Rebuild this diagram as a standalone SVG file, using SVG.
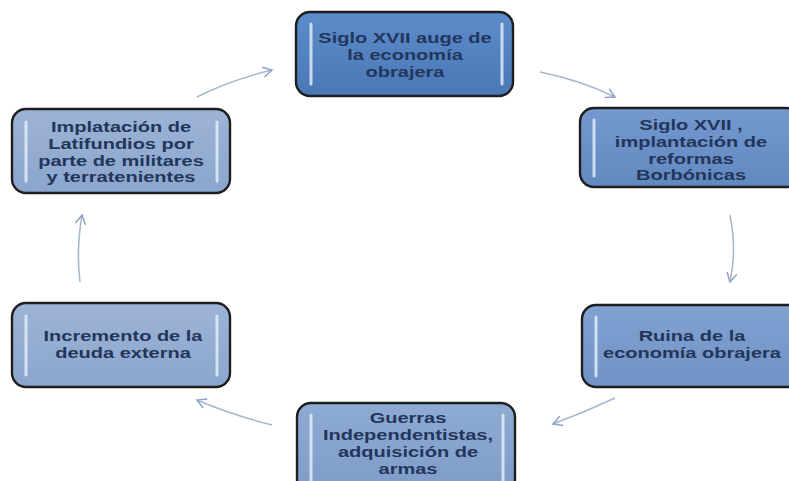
<svg xmlns="http://www.w3.org/2000/svg" width="789" height="481" viewBox="0 0 789 481">
<defs>
<linearGradient id="g1" x1="0" y1="0" x2="0" y2="1"><stop offset="0" stop-color="#5d8ccb"/><stop offset="1" stop-color="#4a78b5"/></linearGradient>
<linearGradient id="g2" x1="0" y1="0" x2="0" y2="1"><stop offset="0" stop-color="#7399cf"/><stop offset="1" stop-color="#6288c0"/></linearGradient>
<linearGradient id="g3" x1="0" y1="0" x2="0" y2="1"><stop offset="0" stop-color="#80a2d1"/><stop offset="1" stop-color="#7192c4"/></linearGradient>
<linearGradient id="g4" x1="0" y1="0" x2="0" y2="1"><stop offset="0" stop-color="#8eabd4"/><stop offset="1" stop-color="#7e9cc8"/></linearGradient>
<linearGradient id="g5" x1="0" y1="0" x2="0" y2="1"><stop offset="0" stop-color="#9cb4d6"/><stop offset="1" stop-color="#8ba5cc"/></linearGradient>
<marker id="ah" viewBox="0 0 12 12" refX="10" refY="6" markerWidth="12" markerHeight="12" markerUnits="userSpaceOnUse" orient="auto"><path d="M1,1 L10,6 L1,11" fill="none" stroke="#8fa3c4" stroke-width="1.5"/></marker>
<style>
.box{stroke:#1e1e1e;stroke-width:2.4}
.hl{stroke:#e8f1fb;stroke-width:3;stroke-linecap:round;opacity:0.8}
.t{font-family:"Liberation Sans",Arial,sans-serif;font-size:14.5px;font-weight:bold;fill:#23365a;text-anchor:middle}
.c{fill:none;stroke:#a6b6d0;stroke-width:1.5;marker-end:url(#ah)}
</style>
</defs>
<g id="connectors">
<path class="c" d="M197,97 Q230,80 272,70"/>
<path class="c" d="M540,72 Q580,80 615,97"/>
<path class="c" d="M730,215 Q737,250 730,282"/>
<path class="c" d="M615,398 Q585,412 553,424"/>
<path class="c" d="M272,425 Q232,415 197,400"/>
<path class="c" d="M80,282 Q76,250 82,215"/>
</g>
<g id="n1">
<rect class="box" x="296" y="12" width="217" height="84" rx="14" fill="url(#g1)"/>
<line class="hl" x1="311" y1="24" x2="311" y2="84"/><line class="hl" x1="502" y1="24" x2="502" y2="84"/>
<g transform="translate(405,0) scale(1.38,1)">
<text class="t" x="0" y="43">Siglo XVII auge de</text>
<text class="t" x="0" y="60">la economía</text>
<text class="t" x="0" y="77">obrajera</text>
</g>
</g>
<g id="n2">
<rect class="box" x="580" y="108" width="220" height="79" rx="14" fill="url(#g2)"/>
<line class="hl" x1="594" y1="120" x2="594" y2="176"/>
<g transform="translate(691,0) scale(1.38,1)">
<text class="t" x="0" y="130">Siglo XVII ,</text>
<text class="t" x="0" y="146.8">implantación de</text>
<text class="t" x="0" y="163.6">reformas</text>
<text class="t" x="0" y="180.4">Borbónicas</text>
</g>
</g>
<g id="n3">
<rect class="box" x="582" y="305" width="220" height="82" rx="14" fill="url(#g3)"/>
<line class="hl" x1="596" y1="317" x2="596" y2="376"/>
<g transform="translate(692,0) scale(1.38,1)">
<text class="t" x="0" y="341">Ruina de la</text>
<text class="t" x="0" y="358">economía obrajera</text>
</g>
</g>
<g id="n4">
<rect class="box" x="297" y="403" width="218" height="90" rx="14" fill="url(#g4)"/>
<line class="hl" x1="311" y1="415" x2="311" y2="481"/><line class="hl" x1="503" y1="415" x2="503" y2="481"/>
<g transform="translate(408,0) scale(1.38,1)">
<text class="t" x="0" y="423.5">Guerras</text>
<text class="t" x="0" y="440.3">Independentistas,</text>
<text class="t" x="0" y="457.1">adquisición de</text>
<text class="t" x="0" y="473.9">armas</text>
</g>
</g>
<g id="n5">
<rect class="box" x="12" y="303" width="218" height="84" rx="14" fill="url(#g5)"/>
<line class="hl" x1="26" y1="316" x2="26" y2="375"/><line class="hl" x1="217" y1="316" x2="217" y2="375"/>
<g transform="translate(123,0) scale(1.38,1)">
<text class="t" x="0" y="341">Incremento de la</text>
<text class="t" x="0" y="358">deuda externa</text>
</g>
</g>
<g id="n6">
<rect class="box" x="12" y="109" width="218" height="84" rx="14" fill="url(#g5)"/>
<line class="hl" x1="26" y1="122" x2="26" y2="181"/><line class="hl" x1="217" y1="122" x2="217" y2="181"/>
<g transform="translate(121,0) scale(1.38,1)">
<text class="t" x="0" y="132">Implatación de</text>
<text class="t" x="0" y="148.8">Latifundios por</text>
<text class="t" x="0" y="165.6">parte de militares</text>
<text class="t" x="0" y="182.4">y terratenientes</text>
</g>
</g>
</svg>
